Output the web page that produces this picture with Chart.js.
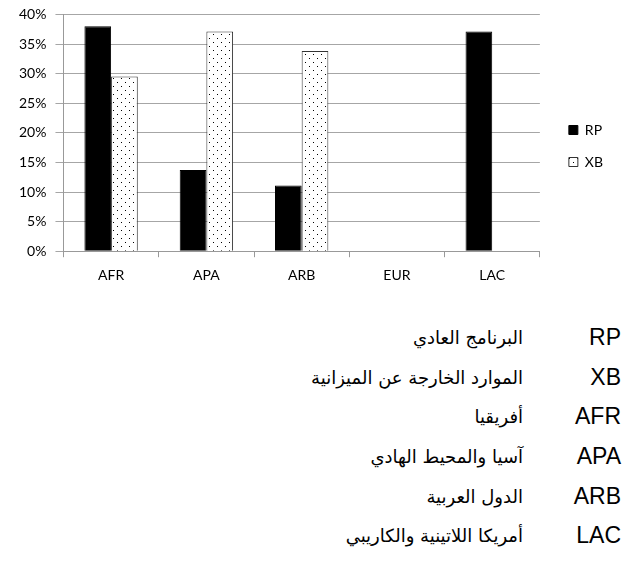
<!DOCTYPE html>
<html>
<head>
<meta charset="utf-8">
<script src="https://cdn.jsdelivr.net/npm/chart.js@4.4.1/dist/chart.umd.min.js"></script>
<style>
  body { margin: 0; background: #fff; }
  #wrap { width: 635px; height: 297px; position: relative; margin-top: -3px; }
  #notes { position: absolute; left: 0; top: 325px; width: 635px; }
  .row { height: 39.7px; position: relative; line-height: 24px; }
  .code { position: absolute; right: 14px; top: 0; font-family: "Liberation Sans", Arial, sans-serif; font-size: 23px; color: #000; }
  .ar { position: absolute; right: 112px; top: 1px; direction: rtl; font-family: "DejaVu Sans", sans-serif; font-size: 18px; color: #000; }
</style>
</head>
<body>
<div id="wrap"><canvas id="budget" width="635" height="297"></canvas></div>
<div id="notes"></div>

<script>
// values (share of total, %)
const regions = ["AFR", "APA", "ARB", "EUR", "LAC"];
const rpValues = [38.0, 13.7, 11.1, 0, 37.1];
const xbValues = [29.5, 37.1, 33.8, 0, null];
const yTicks = [0, 5, 10, 15, 20, 25, 30, 35, 40];

// glossary below the chart
const codes = ["RP", "XB", "AFR", "APA", "ARB", "LAC"];
const arabicNames = [
    "البرنامج العادي",
    "الموارد الخارجة عن الميزانية",
    "أفريقيا",
    "آسيا والمحيط الهادي",
    "الدول العربية",
    "أمريكا اللاتينية والكاريبي"
];

// dotted fill used for XB bars
function dotPattern() {
    const c = document.createElement("canvas");
    c.width = 8;
    c.height = 8;
    const g = c.getContext("2d");
    g.fillStyle = "#fff";
    g.fillRect(0, 0, 8, 8);
    g.fillStyle = "#000";
    g.fillRect(1, 1, 1, 1);
    g.fillRect(5, 5, 1, 1);
    return g.createPattern(c, "repeat");
}

const notes = document.getElementById("notes");
codes.forEach((code, i) => {
    const row = document.createElement("div");
    row.className = "row";
    row.innerHTML = '<span class="ar">' + arabicNames[i] + '</span><span class="code">' + code + '</span>';
    notes.appendChild(row);
});

// nudge the legend away from the plot without resizing the plot
const legendShift = {
    id: "legendShift",
    afterLayout(chart) {
        const lg = chart.legend;
        lg.left += 11;
        lg.right += 11;
        lg.top -= 5;
        lg.bottom -= 5;
    }
};

const ctx = document.getElementById("budget").getContext("2d");
new Chart(ctx, {
    type: "bar",
    data: {
        labels: regions,
        datasets: [{
            label: "RP",
            data: rpValues,
            backgroundColor: "#000",
            borderColor: "#000",
            borderWidth: 1
        }, {
            label: "XB",
            data: xbValues,
            backgroundColor: dotPattern(),
            borderColor: "#333",
            borderWidth: 1
        }]
    },
    options: {
        responsive: false,
        animation: false,
        categoryPercentage: 0.56,
        barPercentage: 1,
        layout: { padding: { top: 11, right: 33, left: 10, bottom: 0 } },
        plugins: {
            tooltip: { enabled: false },
            legend: {
                position: "right",
                labels: {
                    boxWidth: 9,
                    boxHeight: 9,
                    padding: 18,
                    color: "#000",
                    font: { family: "Lato", size: 14 }
                }
            }
        },
        scales: {
            x: {
                grid: { offset: true, drawOnChartArea: false, drawTicks: true, tickLength: 6, color: "#999" },
                border: { color: "#999" },
                ticks: { color: "#000", font: { family: "Lato", size: 14 }, padding: 10 }
            },
            y: {
                min: 0,
                max: 40,
                afterBuildTicks: axis => { axis.ticks = yTicks.map(v => ({ value: v })); },
                grid: { color: "#a6a6a6", tickLength: 8 },
                border: { color: "#999" },
                ticks: { color: "#000", font: { family: "Lato", size: 14 }, padding: 9, autoSkip: false, callback: v => v + "%" }
            }
        }
    },
    plugins: [legendShift]
});
</script>
</body>
</html>
